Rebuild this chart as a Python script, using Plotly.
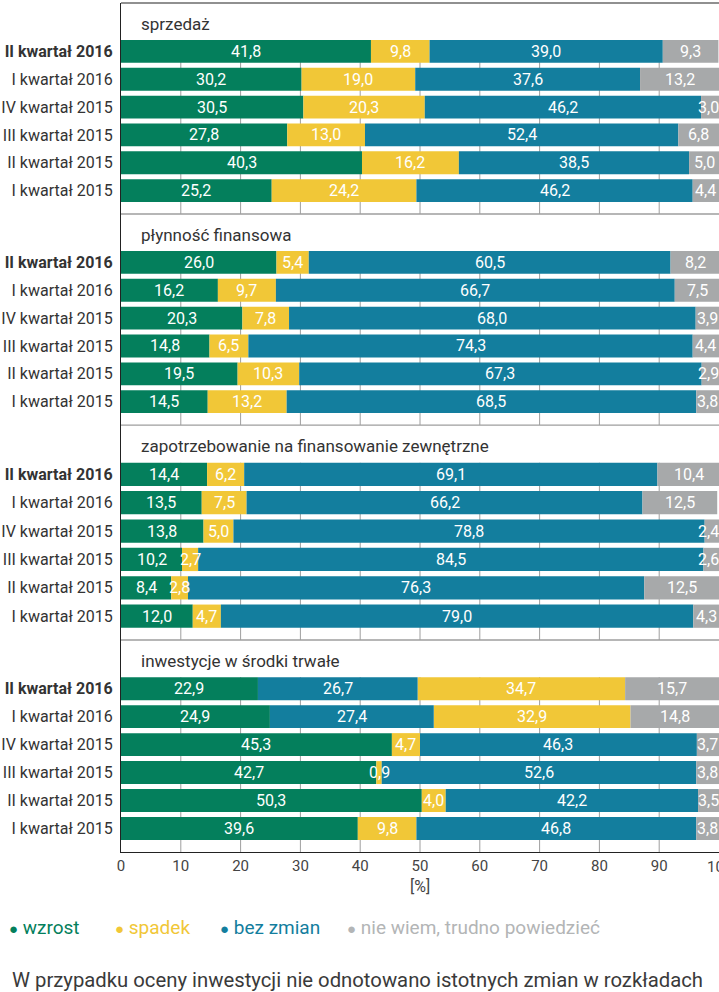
import plotly.graph_objects as go
from plotly.subplots import make_subplots

quarters = ["II kwartał 2016", "I kwartał 2016", "IV kwartał 2015",
            "III kwartał 2015", "II kwartał 2015", "I kwartał 2015"]
panel_titles = ["sprzedaż", "płynność finansowa",
                "zapotrzebowanie na finansowanie zewnętrzne",
                "inwestycje w środki trwałe"]
series_names = ["wzrost", "spadek", "bez zmian", "nie wiem, trudno powiedzieć"]
x_ticks = [0, 10, 20, 30, 40, 50, 60, 70, 80, 90, 100]

sprzedaz_wzrost = [41.8, 30.2, 30.5, 27.8, 40.3, 25.2]
sprzedaz_spadek = [9.8, 19.0, 20.3, 13.0, 16.2, 24.2]
sprzedaz_bez = [39.0, 37.6, 46.2, 52.4, 38.5, 46.2]
sprzedaz_nw = [9.3, 13.2, 3.0, 6.8, 5.0, 4.4]

plynnosc_wzrost = [26.0, 16.2, 20.3, 14.8, 19.5, 14.5]
plynnosc_spadek = [5.4, 9.7, 7.8, 6.5, 10.3, 13.2]
plynnosc_bez = [60.5, 66.7, 68.0, 74.3, 67.3, 68.5]
plynnosc_nw = [8.2, 7.5, 3.9, 4.4, 2.9, 3.8]

zapotrz_wzrost = [14.4, 13.5, 13.8, 10.2, 8.4, 12.0]
zapotrz_spadek = [6.2, 7.5, 5.0, 2.7, 2.8, 4.7]
zapotrz_bez = [69.1, 66.2, 78.8, 84.5, 76.3, 79.0]
zapotrz_nw = [10.4, 12.5, 2.4, 2.6, 12.5, 4.3]

inwest_wzrost = [22.9, 24.9, 45.3, 42.7, 50.3, 39.6]
inwest_spadek = [34.7, 32.9, 4.7, 0.9, 4.0, 9.8]
inwest_bez = [26.7, 27.4, 46.3, 52.6, 42.2, 46.8]
inwest_nw = [15.7, 14.8, 3.7, 3.8, 3.5, 3.8]

# stacking order of series per row (index into series); the first two
# investment rows place "bez zmian" before "spadek" as in the original
normal_order = [0, 1, 2, 3]
swapped_order = [0, 2, 1, 3]
inwest_orders = [swapped_order, swapped_order, normal_order, normal_order,
                 normal_order, normal_order]

panels = [
    [sprzedaz_wzrost, sprzedaz_spadek, sprzedaz_bez, sprzedaz_nw],
    [plynnosc_wzrost, plynnosc_spadek, plynnosc_bez, plynnosc_nw],
    [zapotrz_wzrost, zapotrz_spadek, zapotrz_bez, zapotrz_nw],
    [inwest_wzrost, inwest_spadek, inwest_bez, inwest_nw],
]
orders = [[normal_order] * 6, [normal_order] * 6, [normal_order] * 6, inwest_orders]

colors = ["#047F5C", "#F1C737", "#137E9E", "#A7A9AA"]
legend_colors = ["#047F5C", "#F1C737", "#137E9E", "#B3B5B6"]
FONT = "Roboto"

fig = make_subplots(rows=4, cols=1, shared_xaxes=True, vertical_spacing=0)

bounds = [1.0, 0.7515, 0.5029, 0.2497, 0.0]
y_top, y_bot = -1.74, 5.84
bar_w = 0.82
rows_idx = list(range(6))

annotations = []
shapes = []
for p, (vals, ords) in enumerate(zip(panels, orders)):
    r = p + 1
    xr = "x" if r == 1 else f"x{r}"
    yr = "y" if r == 1 else f"y{r}"
    bases = [[0.0] * 6 for _ in range(4)]
    for i in range(6):
        acc = 0.0
        for s in ords[i]:
            bases[s][i] = acc
            acc += vals[s][i]
    for s in range(4):
        fig.add_trace(go.Bar(
            y=rows_idx, x=vals[s], base=bases[s], orientation="h",
            width=bar_w, marker=dict(color=colors[s], line=dict(width=0)),
            name=series_names[s], showlegend=False, hoverinfo="skip"),
            row=r, col=1)
        for i in range(6):
            c = bases[s][i] + vals[s][i] / 2
            c = min(c, 98.2)
            annotations.append(dict(
                x=c, y=i, xref=xr, yref=yr, showarrow=False,
                text=f"{vals[s][i]:.1f}".replace(".", ","),
                font=dict(family=FONT, size=16, color="white"),
                xanchor="center", yanchor="middle"))
    annotations.append(dict(
        x=3, y=-1.0, xref=xr, yref=yr, showarrow=False, text=panel_titles[p],
        font=dict(family=FONT, size=17, color="#333333"),
        xanchor="left", yanchor="middle"))
    for t in x_ticks[1:-1]:
        shapes.append(dict(type="line", xref=xr, yref=yr, x0=t, x1=t,
                           y0=-bar_w / 2, y1=y_bot, layer="below",
                           line=dict(color="#9E9E9E", width=1)))
    ticktext = [f"<b>{quarters[0]}</b>"] + quarters[1:]
    fig.update_yaxes(row=r, col=1, domain=[bounds[p + 1], bounds[p]],
                     range=[y_bot, y_top], tickvals=rows_idx, ticktext=ticktext,
                     showline=True, linecolor="#222222", linewidth=1.2,
                     mirror=True, ticks="", showgrid=False, zeroline=False,
                     ticklabelstandoff=4,
                     tickfont=dict(family=FONT, size=16, color="#333333"))
    fig.update_xaxes(row=r, col=1, range=[0, 100], dtick=10, showgrid=False,
                     zeroline=False, ticks="")

for b in bounds[1:4]:
    shapes.append(dict(type="line", xref="paper", yref="paper", x0=0, x1=1,
                       y0=b, y1=b, layer="above",
                       line=dict(color="#9E9E9E", width=1.3)))
shapes.append(dict(type="line", xref="paper", yref="paper", x0=0, x1=1,
                   y0=1, y1=1, layer="above", line=dict(color="#222222", width=1.2)))

fig.update_xaxes(row=4, col=1, showline=True, linecolor="#222222", linewidth=1.2,
                 showticklabels=True, tickvals=x_ticks[:-1],
                 tickfont=dict(family=FONT, size=15, color="#444444"))
# last tick label (cut by the page edge, as in the original)
annotations.append(dict(x=x_ticks[-1], y=0, xref="x4", yref="paper",
                        yshift=-4, showarrow=False, text=str(x_ticks[-1]),
                        font=dict(family=FONT, size=15, color="#444444"),
                        xanchor="center", yanchor="top"))

annotations.append(dict(x=0.5, y=-0.0412, xref="paper", yref="paper",
                        showarrow=False, text="[%]",
                        font=dict(family=FONT, size=16, color="#444444"),
                        xanchor="center", yanchor="middle"))

leg_px = [7, 113, 218, 345]
for s in range(4):
    annotations.append(dict(
        x=(leg_px[s] - 121) / 598, y=-0.0895, xref="paper", yref="paper",
        showarrow=False, xanchor="left", yanchor="middle",
        text=f"<span style='font-size:15px'>●</span> {series_names[s]}",
        font=dict(family=FONT, size=19, color=legend_colors[s])))

annotations.append(dict(
    x=(10 - 121) / 598, y=(852 - 980) / 849, xref="paper", yref="paper",
    showarrow=False, xanchor="left", yanchor="middle",
    text="W przypadku oceny inwestycji nie odnotowano istotnych zmian w rozkładach",
    font=dict(family=FONT, size=20.3, color="#3A3A3A")))

fig.update_layout(
    width=719, height=992, barmode="overlay",
    margin=dict(l=121, r=0, t=3, b=140, pad=0),
    paper_bgcolor="white", plot_bgcolor="white",
    annotations=annotations, shapes=shapes, showlegend=False,
    font=dict(family=FONT),
)

fig.write_html("out.html", config={"displayModeBar": False},
               post_script="document.body.style.margin='0';"
                           "document.body.style.overflow='hidden';")
